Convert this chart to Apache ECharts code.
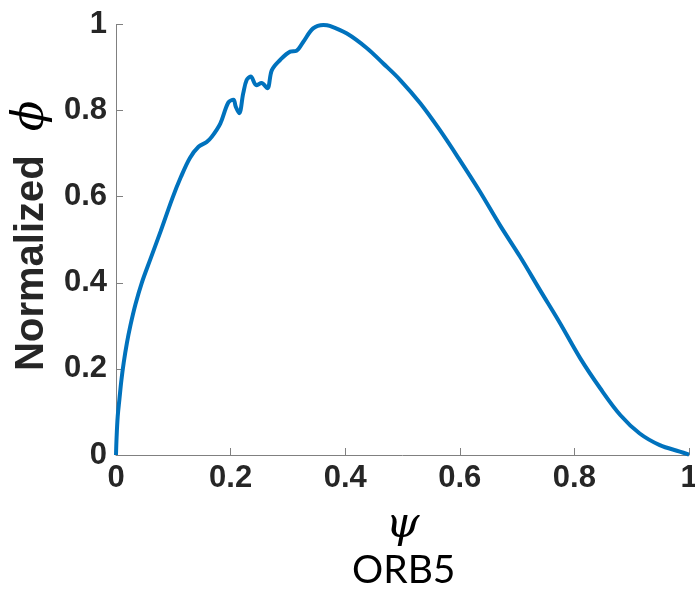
<!DOCTYPE html>
<html>
<head>
<meta charset="utf-8">
<script src="https://cdn.jsdelivr.net/npm/echarts@6/dist/echarts.min.js"></script>
<style>
html,body{margin:0;padding:0;background:#fff;}
#chart{width:695px;height:596px;}
</style>
</head>
<body>
<div id="chart"></div>
<script>
// psi values (x) and normalized phi values (y)
const psi = [0, 0.001, 0.003, 0.006, 0.0095, 0.0135, 0.019, 0.025, 0.034, 0.045, 0.060, 0.078, 0.098, 0.113, 0.129, 0.144, 0.158, 0.167, 0.182, 0.196, 0.205, 0.209, 0.215, 0.222, 0.228, 0.235, 0.245, 0.254, 0.264, 0.272, 0.286, 0.304, 0.315, 0.327, 0.344, 0.362, 0.373, 0.403, 0.438, 0.466, 0.496, 0.531, 0.565, 0.600, 0.635, 0.670, 0.705, 0.740, 0.775, 0.810, 0.845, 0.880, 0.914, 0.949, 0.984, 1.0];
const phiNorm = [0, 0.04, 0.09, 0.13, 0.175, 0.215, 0.26, 0.30, 0.35, 0.400, 0.455, 0.52, 0.595, 0.645, 0.69, 0.716, 0.727, 0.739, 0.770, 0.819, 0.825, 0.809, 0.794, 0.840, 0.871, 0.879, 0.859, 0.864, 0.852, 0.894, 0.917, 0.937, 0.939, 0.960, 0.991, 0.999, 0.997, 0.979, 0.945, 0.910, 0.871, 0.817, 0.755, 0.685, 0.612, 0.534, 0.461, 0.383, 0.306, 0.225, 0.155, 0.093, 0.050, 0.023, 0.008, 0.001];
const xTicks = [0, 0.2, 0.4, 0.6, 0.8, 1];
const yTicks = [0, 0.2, 0.4, 0.6, 0.8, 1];
const xName = 'ψ';
const yName = 'Normalized';
const ySymbol = 'ϕ';
const caption = 'ORB5';

const data = psi.map((x, i) => [x, phiNorm[i]]);
const chart = echarts.init(document.getElementById('chart'), null, {renderer: 'canvas'});
const axisCommon = {
  type: 'value', min: xTicks[0], max: xTicks[xTicks.length - 1], interval: 0.2,
  axisLine: {show: true, lineStyle: {color: '#808080', width: 1}},
  axisTick: {show: true, inside: true, length: 7, lineStyle: {color: '#808080', width: 1}},
  splitLine: {show: false},
  axisLabel: {
    color: '#262626', fontFamily: 'Liberation Sans', fontWeight: 'bold', fontSize: 31,
    formatter: v => String(+v.toFixed(1))
  }
};
chart.setOption({
  animation: false,
  backgroundColor: '#fff',
  title: {
    text: caption, left: 347, top: 546,
    textStyle: {fontFamily: 'Lato', fontWeight: 'normal', fontSize: 39, color: '#000'}
  },
  grid: {left: 116, right: 6, top: 24.5, bottom: 141, containLabel: false, outerBoundsMode: 'none'},
  xAxis: Object.assign({}, axisCommon, {
    name: xName, nameLocation: 'middle', nameGap: 49, nameMoveOverlap: false,
    nameTextStyle: {fontFamily: 'DejaVu Serif', fontStyle: 'italic', fontSize: 43, color: '#000'},
    axisLabel: Object.assign({}, axisCommon.axisLabel, {margin: 8})
  }),
  yAxis: Object.assign({}, axisCommon, {
    min: yTicks[0], max: yTicks[yTicks.length - 1],
    name: '{a|' + yName + '}{s|}{b|' + ySymbol + '}', nameLocation: 'middle', nameGap: 62, nameMoveOverlap: false,
    nameTextStyle: {
      padding: [0, 0, 0, 8],
      rich: {
        a: {fontFamily: 'Liberation Sans', fontWeight: 'bold', fontSize: 40, color: '#262626'},
        s: {width: 24},
        b: {fontFamily: 'DejaVu Serif', fontStyle: 'italic', fontSize: 45, color: '#000'}
      }
    },
    axisLabel: Object.assign({}, axisCommon.axisLabel, {margin: 9})
  }),
  series: [{
    type: 'line', data: data, showSymbol: false, smooth: 0.35,
    lineStyle: {color: '#0072BD', width: 4},
    clip: false
  }]
});
</script>
</body>
</html>
